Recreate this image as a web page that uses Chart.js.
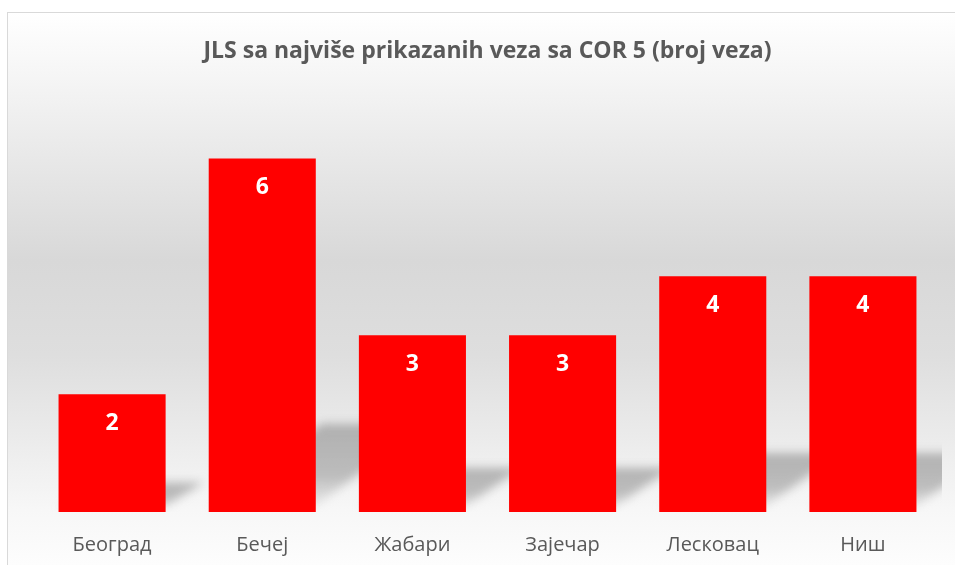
<!DOCTYPE html>
<html>
<head>
<meta charset="utf-8">
<script src="https://cdn.jsdelivr.net/npm/chart.js@4.4.1/dist/chart.umd.min.js"></script>
<style>
  html, body { margin: 0; padding: 0; background: #fff; }
  #wrap { width: 955px; height: 565px; }
</style>
</head>
<body>
<div id="wrap"><canvas id="grafik"></canvas></div>
<script>
// Broj veza po JLS
const gradovi = ['Београд', 'Бечеј', 'Жабари', 'Зајечар', 'Лесковац', 'Ниш'];
const brojVeza = [2, 6, 3, 3, 4, 4];
const naslov = 'JLS sa najviše prikazanih veza sa COR 5 (broj veza)';

// okvir i pozadina sa gradijentom
const pozadina = {
  id: 'pozadina',
  beforeDraw(chart) {
    const ctx = chart.ctx;
    const x0 = 7, y0 = 12, x1 = 970, y1 = 580;
    const g = ctx.createLinearGradient(0, y0, 0, 565);
    g.addColorStop(0, '#ffffff');
    g.addColorStop(0.12, '#f5f5f5');
    g.addColorStop(0.45, '#d8d8d8');
    g.addColorStop(0.62, '#dedede');
    g.addColorStop(0.78, '#ececec');
    g.addColorStop(0.9, '#f7f7f7');
    g.addColorStop(1, '#fdfdfd');
    ctx.save();
    ctx.fillStyle = g;
    ctx.fillRect(x0, y0, x1 - x0, y1 - y0);
    ctx.strokeStyle = '#d9d9d9';
    ctx.lineWidth = 1;
    ctx.strokeRect(x0 + 0.5, y0 + 0.5, x1 - x0, y1 - y0);
    ctx.restore();
  }
};

// senke iza stubaca (perspektiva)
const senke = {
  id: 'senke',
  beforeDatasetsDraw(chart) {
    const ctx = chart.ctx;
    const area = chart.chartArea;
    const meta = chart.getDatasetMeta(0);
    ctx.save();
    ctx.beginPath();
    ctx.rect(area.left, area.top, area.right - area.left + 4, area.bottom - area.top);
    ctx.clip();
    ctx.filter = 'blur(5px)';
    meta.data.forEach(bar => {
      const h = bar.base - bar.y;
      const l = bar.x - bar.width / 2;
      const r = bar.x + bar.width / 2;
      const dx = h * 0.32, dy = h * 0.25;
      const g = ctx.createLinearGradient(0, bar.base - dy, 0, bar.base);
      g.addColorStop(0, 'rgba(140,140,140,0.62)');
      g.addColorStop(0.6, 'rgba(150,150,150,0.58)');
      g.addColorStop(1, 'rgba(200,200,200,0.2)');
      ctx.fillStyle = g;
      ctx.beginPath();
      ctx.moveTo(l, bar.base - 4);
      ctx.lineTo(r - 4, bar.base - 4);
      ctx.lineTo(r + dx, bar.base - dy);
      ctx.lineTo(l + dx, bar.base - dy);
      ctx.closePath();
      ctx.fill();
    });
    ctx.restore();
  }
};

// vrednosti unutar stubaca
const vrednosti = {
  id: 'vrednosti',
  afterDatasetsDraw(chart) {
    const ctx = chart.ctx;
    const meta = chart.getDatasetMeta(0);
    ctx.save();
    ctx.fillStyle = '#ffffff';
    ctx.font = 'bold 23px "Open Sans"';
    ctx.textAlign = 'center';
    ctx.textBaseline = 'middle';
    meta.data.forEach((bar, i) => {
      ctx.fillText(brojVeza[i], bar.x, bar.y + 29);
    });
    ctx.restore();
  }
};

const ctx = document.getElementById('grafik').getContext('2d');
const grafik = new Chart(ctx, {
  type: 'bar',
  data: {
    labels: gradovi,
    datasets: [{
      label: 'Broj veza',
      data: brojVeza,
      backgroundColor: '#ff0000',
      borderWidth: 0,
      barPercentage: 0.713,
      categoryPercentage: 1
    }]
  },
  options: {
    responsive: true,
    maintainAspectRatio: false,
    animation: false,
    layout: {
      padding: { left: 37, right: 17, top: 12, bottom: 0 }
    },
    plugins: {
      legend: { display: false },
      tooltip: { enabled: false },
      title: {
        display: true,
        text: naslov,
        color: '#595959',
        font: { family: 'Open Sans', size: 23, weight: 'bold' },
        padding: { top: 26, bottom: 34 }
      }
    },
    scales: {
      x: {
        grid: { display: false, drawTicks: false },
        border: { display: false },
        ticks: {
          color: '#595959',
          font: { family: 'Open Sans', size: 20 },
          padding: 21
        },
        afterFit(scale) { scale.height = 53; }
      },
      y: {
        display: false,
        min: 0,
        max: 7
      }
    }
  },
  plugins: [pozadina, senke, vrednosti]
});
</script>
</body>
</html>
